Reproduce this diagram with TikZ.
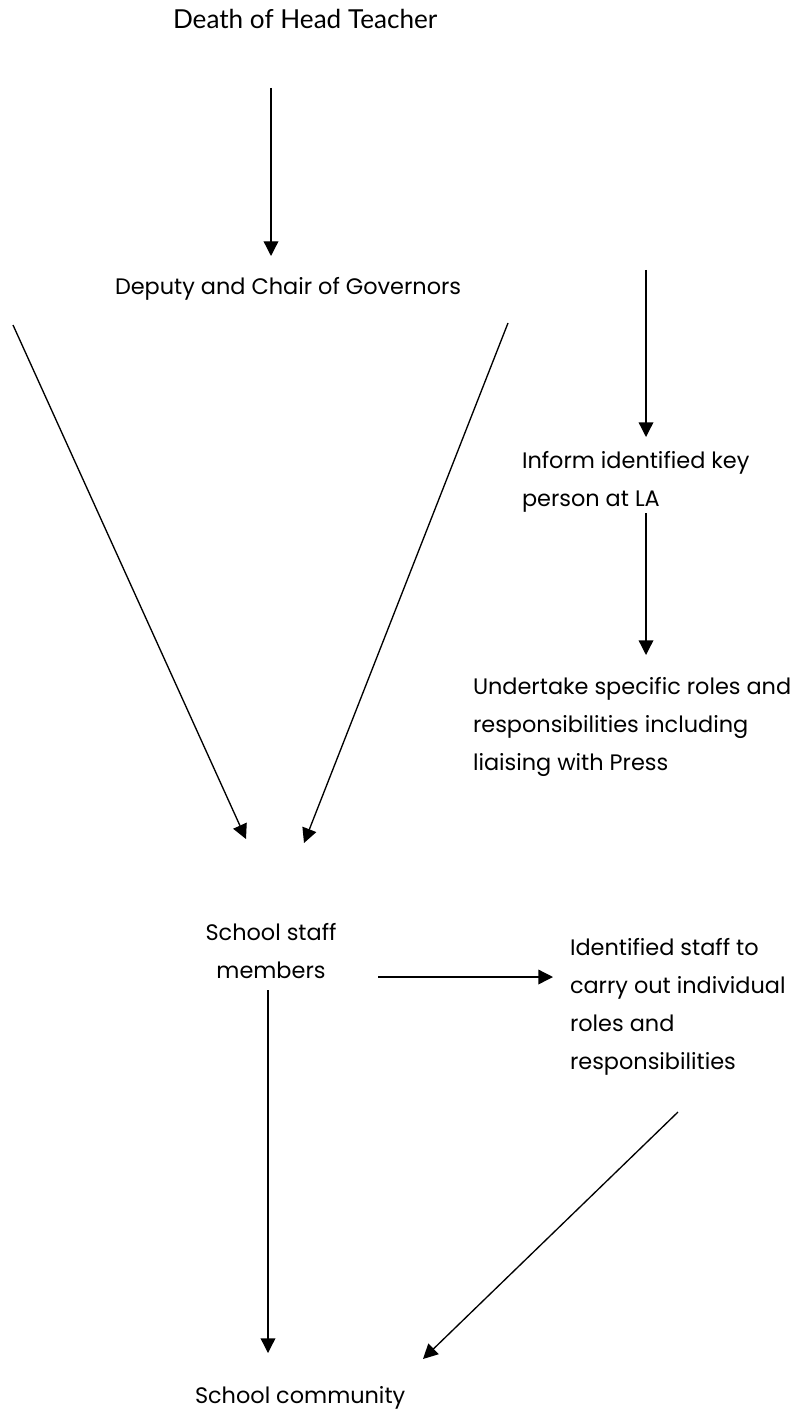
\documentclass[tikz,border=0pt]{standalone}
\usepackage{fontspec}
\setmainfont{Poppins}
\newfontfamily\titlefont{Lato}
\usetikzlibrary{arrows.meta}
\newcommand{\lines}[1]{\begin{tabular}[t]{@{}l@{}}#1\end{tabular}}
\newcommand{\clines}[1]{\begin{tabular}[t]{@{}c@{}}#1\end{tabular}}
\tikzset{
  txt/.style={inner sep=0pt, outer sep=0pt, anchor=base west, font=\fontsize{16.8}{28.5}\selectfont},
  ttl/.style={inner sep=0pt, outer sep=0pt, anchor=base west, font=\titlefont\fontsize{19.6}{24}\selectfont},
  arr/.style={line width=1pt, -{Triangle[length=11pt,width=11pt]}}
}
\begin{document}
\begin{tikzpicture}[x=0.75pt,y=-0.75pt]
\useasboundingbox (0,0) rectangle (796,1412);
% texts
\node[ttl] (death) at (173,29) {Death of Head Teacher};
\node[txt] (deputy) at (115,295) {Deputy and Chair of Governors};
\node[txt] (inform) at (522,468) {\lines{Inform identified key\\person at LA}};
\node[txt] (undertake) at (473,694) {\lines{Undertake specific roles and\\responsibilities including\\liaising with Press}};
\node[txt, anchor=base] (staff) at (271,940) {\clines{School staff\\members}};
\node[txt] (identified) at (570,955) {\lines{Identified staff to\\carry out individual\\roles and\\responsibilities}};
\node[txt] (community) at (195,1403) {School community};
% connector end points
\coordinate (a1s) at (271,88);   \coordinate (a1e) at (271,256);
\coordinate (dls) at (13,325);   \coordinate (dle) at (246,839);
\coordinate (drs) at (508,323);  \coordinate (dre) at (304,843);
\coordinate (r1s) at (646,270);  \coordinate (r1e) at (646,437);
\coordinate (r2s) at (646,513);  \coordinate (r2e) at (646,655);
\coordinate (hs) at (378,977);   \coordinate (he) at (553,977);
\coordinate (vs) at (268,990);   \coordinate (ve) at (268,1353);
\coordinate (ds) at (678,1112);  \coordinate (de) at (423,1359);
% connectors
\draw[arr] (a1s) -- (a1e);
\draw[arr] (dls) -- (dle);
\draw[arr] (drs) -- (dre);
\draw[arr] (r1s) -- (r1e);
\draw[arr] (r2s) -- (r2e);
\draw[arr] (hs) -- (he);
\draw[arr] (vs) -- (ve);
\draw[arr] (ds) -- (de);
\end{tikzpicture}
\end{document}
